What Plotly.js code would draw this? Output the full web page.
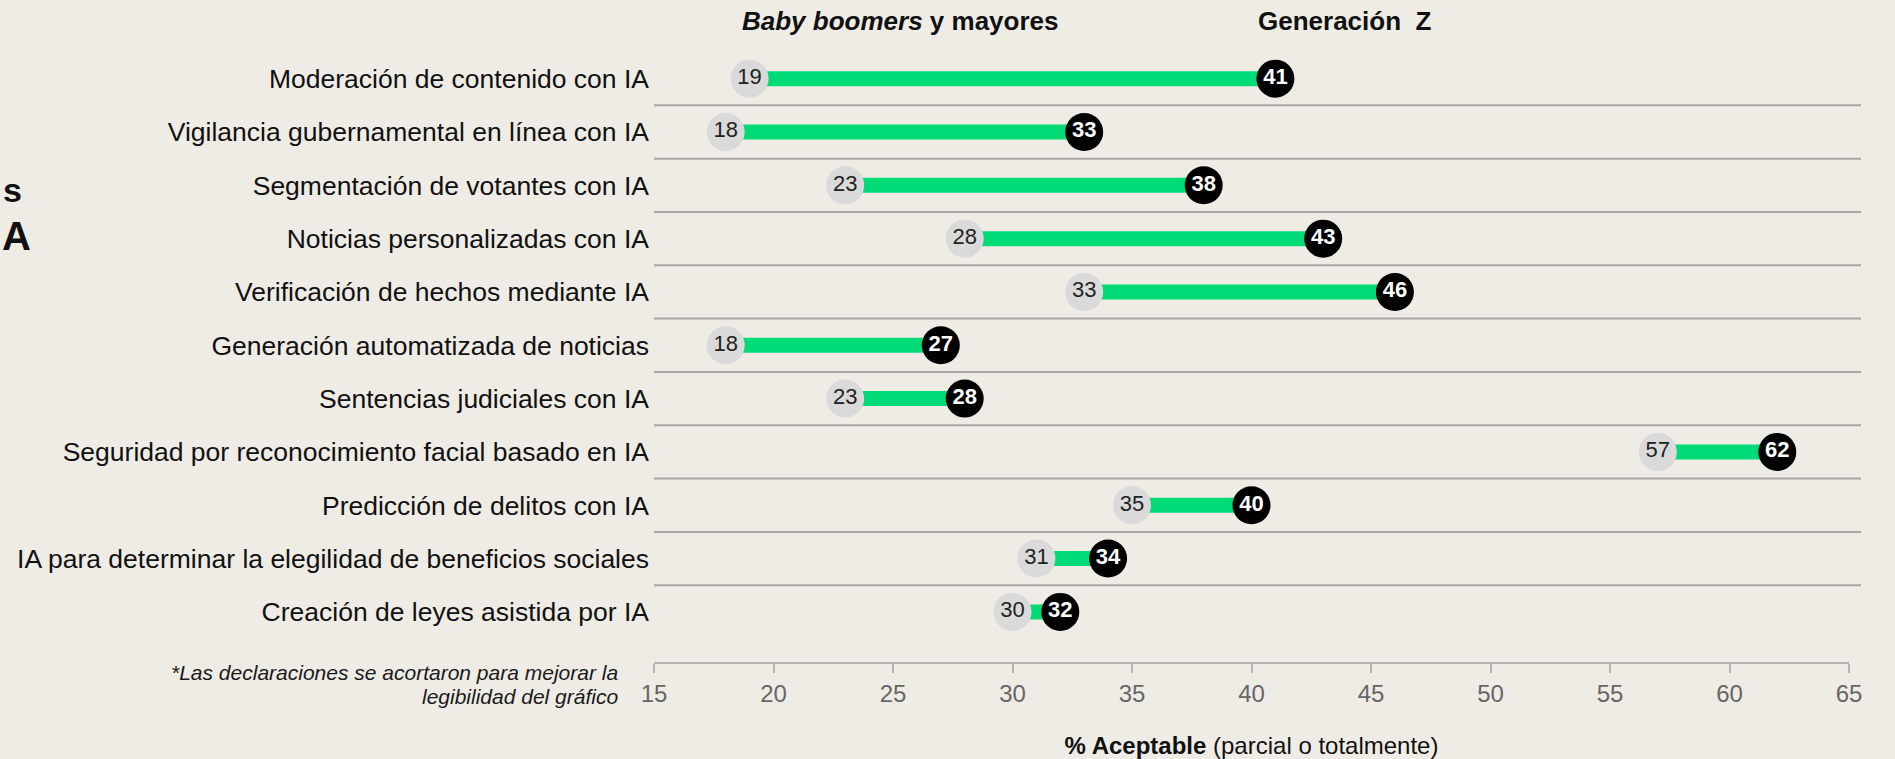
<!DOCTYPE html>
<html>
<head>
<meta charset="utf-8">
<script src="https://cdn.plot.ly/plotly-3.0.1.min.js"></script>
<style>
  html, body { margin: 0; padding: 0; background: #efece6; }
  #chart { width: 1895px; height: 759px; }
</style>
</head>
<body>
<div id="chart"></div>
<script>
const categories = [
  "Moderación de contenido con IA",
  "Vigilancia gubernamental en línea con IA",
  "Segmentación de votantes con IA",
  "Noticias personalizadas con IA",
  "Verificación de hechos mediante IA",
  "Generación automatizada de noticias",
  "Sentencias judiciales con IA",
  "Seguridad por reconocimiento facial basado en IA",
  "Predicción de delitos con IA",
  "IA para determinar la elegilidad de beneficios sociales",
  "Creación de leyes asistida por IA"
];
const boomers = [19, 18, 23, 28, 33, 18, 23, 57, 35, 31, 30];
const genZ = [41, 33, 38, 43, 46, 27, 28, 62, 40, 34, 32];
const xTicks = [15, 20, 25, 30, 35, 40, 45, 50, 55, 60, 65];

const FONT = '"Liberation Sans", Arial, Helvetica, sans-serif';
const BG = '#efece6';
const GREEN = '#00db77';

// connector segments built from the data arrays
const segX = [], segY = [];
categories.forEach((c, i) => {
  segX.push(boomers[i], genZ[i], null);
  segY.push(c, c, null);
});

const traces = [
  {
    type: 'scatter', mode: 'lines', x: segX, y: segY,
    line: { color: GREEN, width: 15 }, hoverinfo: 'skip', showlegend: false
  },
  {
    type: 'scatter', mode: 'markers+text', name: 'Baby boomers y mayores',
    x: boomers, y: categories, text: boomers.map(String),
    textposition: 'middle center',
    textfont: { family: FONT, size: 22, color: '#222222' },
    marker: { size: 38, color: '#dadada', line: { width: 0 } },
    hoverinfo: 'x+y', showlegend: false, cliponaxis: false
  },
  {
    type: 'scatter', mode: 'markers+text', name: 'Generación Z',
    x: genZ, y: categories, text: genZ.map(v => '<b>' + v + '</b>'),
    textposition: 'middle center',
    textfont: { family: FONT, size: 22, color: '#ffffff' },
    marker: { size: 38, color: '#000000', line: { width: 0 } },
    hoverinfo: 'x+y', showlegend: false, cliponaxis: false
  }
];

// row separators between categories
const shapes = [];
for (let i = 0; i < categories.length - 1; i++) {
  shapes.push({
    type: 'line', xref: 'paper', yref: 'y',
    x0: 0, x1: 1.01, y0: i + 0.5, y1: i + 0.5,
    line: { color: '#a8a8a8', width: 2 }, layer: 'below'
  });
}

const layout = {
  width: 1895, height: 759,
  paper_bgcolor: BG, plot_bgcolor: BG,
  margin: { l: 654, r: 46, t: 52, b: 97, pad: 0 },
  font: { family: FONT, color: '#111111' },
  showlegend: false,
  xaxis: {
    range: [15, 65], tickvals: xTicks, ticktext: xTicks.map(String),
    showgrid: false, zeroline: false,
    showline: true, linecolor: '#b3b3b3', linewidth: 2,
    ticks: 'outside', ticklen: 9, tickwidth: 2, tickcolor: '#b3b3b3',
    tickfont: { family: FONT, size: 24, color: '#666666' },
    title: { text: '<b>% Aceptable</b> (parcial o totalmente)', standoff: 33,
             font: { family: FONT, size: 24, color: '#111111' } },
    fixedrange: true
  },
  yaxis: {
    type: 'category', categoryorder: 'array', categoryarray: categories,
    range: [10.94, -0.5],
    showgrid: false, zeroline: false, showline: false, ticks: '',
    tickfont: { family: FONT, size: 26.5, color: '#111111' },
    ticklabelstandoff: 4,
    fixedrange: true
  },
  shapes: shapes,
  annotations: [
    { xref: 'paper', yref: 'paper', x: 0.206, y: 1.051, xanchor: 'center', yanchor: 'middle',
      text: '<b><i>Baby boomers</i> y mayores</b>', showarrow: false,
      font: { family: FONT, size: 26, color: '#111111' } },
    { xref: 'paper', yref: 'paper', x: 0.578, y: 1.051, xanchor: 'center', yanchor: 'middle',
      text: '<b>Generación\u00a0 Z</b>', showarrow: false,
      font: { family: FONT, size: 26, color: '#111111' } },
    { xref: 'paper', yref: 'paper', x: -0.0285, y: -0.017, xanchor: 'right', yanchor: 'middle',
      text: '<i>*Las declaraciones se acortaron para mejorar la</i>', showarrow: false,
      font: { family: FONT, size: 21, color: '#1a1a1a' } },
    { xref: 'paper', yref: 'paper', x: -0.0285, y: -0.056, xanchor: 'right', yanchor: 'middle',
      text: '<i>legibilidad del gráfico</i>', showarrow: false,
      font: { family: FONT, size: 21, color: '#1a1a1a' } },
    { xref: 'paper', yref: 'paper', x: (1 - 654) / 1195, y: 1 + (52 - 190) / 610, xanchor: 'left', yanchor: 'middle',
      text: '<b>s</b>', showarrow: false,
      font: { family: FONT, size: 34, color: '#111111' } },
    { xref: 'paper', yref: 'paper', x: (0 - 654) / 1195, y: 1 + (52 - 236) / 610, xanchor: 'left', yanchor: 'middle',
      text: '<b>A</b>', showarrow: false,
      font: { family: FONT, size: 40, color: '#111111' } }
  ]
};

Plotly.newPlot('chart', traces, layout, { displayModeBar: false, staticPlot: true });
</script>
</body>
</html>
